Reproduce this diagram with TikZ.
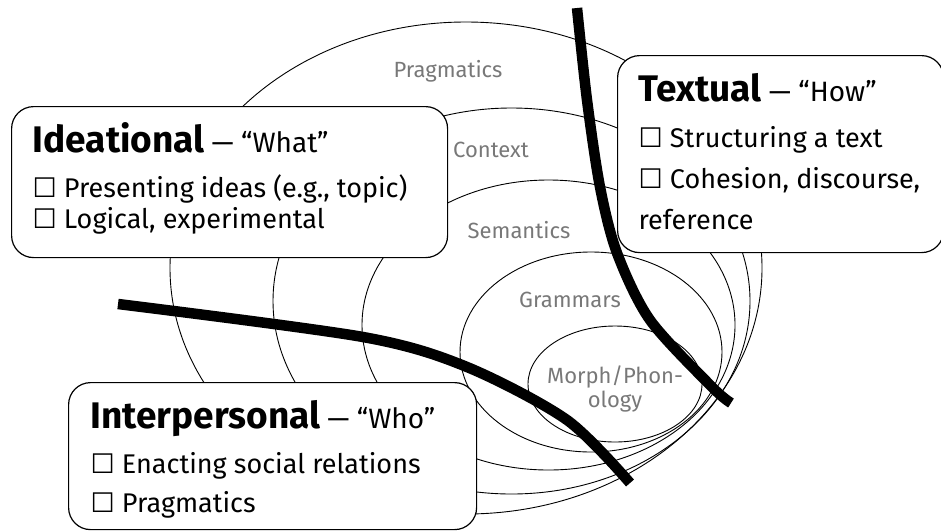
\documentclass[tikz,border=0pt]{standalone}
\usepackage{fontspec}
\setmainfont{Fira Sans}
\newfontfamily\symfont{DejaVu Sans}
\usetikzlibrary{positioning}
\definecolor{ringgray}{RGB}{120,120,120}
\tikzstyle{fnbox} = [draw=black, fill=white, line width=1.2pt, rectangle, rounded corners=22pt, inner xsep=21pt, inner ysep=10pt, anchor=north west]
\tikzstyle{ringname} = [text=ringgray, font=\fontsize{22}{24}\selectfont, inner sep=0pt, anchor=base]
\tikzstyle{ring} = [draw=black, line width=0.9pt]
\tikzstyle{divider} = [line width=10.5pt]
\newcommand{\chk}{{\symfont ☐}}
\newcommand{\fnhead}[2]{\rule{0pt}{36pt}{\fontsize{37}{37}\selectfont\bfseries #1} {\fontsize{28}{28}\selectfont — “#2”}}

\begin{document}
\begin{tikzpicture}[x=1pt, y=-1pt]
\useasboundingbox (0,0) rectangle (941,531);
% rings
\draw[ring] (466,268) ellipse [x radius=296, y radius=246];
\draw[ring] (511.5,301) ellipse [x radius=238.5, y radius=193];
\draw[ring] (548.5,325) ellipse [x radius=186.5, y radius=145];
\draw[ring] (591,352) ellipse [x radius=131, y radius=100];
\draw[ring] (615,384) ellipse [x radius=87, y radius=58];
\node[ringname] (pragmatics) at (448,77) {Pragmatics};
\node[ringname] (context) at (491,157) {Context};
\node[ringname] (semantics) at (519,238) {Semantics};
\node[ringname] (grammars) at (570,307) {Grammars};
\node[ringname] (morph) at (615,407) {\begin{tabular}[b]{@{}c@{}}Morph/Phon-\\ology\end{tabular}};
% metafunctions
\node[fnbox] (ideational) at (11,106) {%
    \begin{minipage}[t][131pt][t]{394pt}
    \fontsize{27}{31}\selectfont
    \fnhead{Ideational}{What}\\[14pt]
    \chk\ Presenting ideas (e.g., topic)\\
    \chk\ Logical, experimental
    \end{minipage}
};
\node[fnbox] (textual) at (617,55) {%
    \begin{minipage}[t][177pt][t]{284pt}
    \fontsize{27}{41}\selectfont
    \fnhead{Textual}{How}\\[5pt]
    \chk\ Structuring a text\\
    \mbox{\chk\ Cohesion, discourse,}\\
    reference
    \end{minipage}
};
\node[fnbox, inner xsep=22pt] (interpersonal) at (68,382) {%
    \begin{minipage}[t][127pt][t]{364pt}
    \fontsize{27}{39}\selectfont
    \fnhead{Interpersonal}{Who}\\[6pt]
    \chk\ Enacting social relations\\
    \chk\ Pragmatics
    \end{minipage}
};
\draw[divider] plot[smooth] coordinates {(577,8) (587,100) (600,187) (617,253) (650,320) (712,387) (731,403)};
\draw[divider] plot[smooth] coordinates {(118,304) (363,337) (467,367) (567,420) (630,483)};
\end{tikzpicture}
\end{document}
